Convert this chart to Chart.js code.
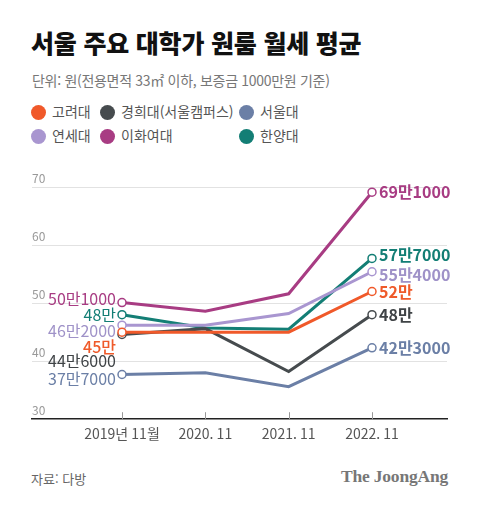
<!DOCTYPE html>
<html lang="ko">
<head>
<meta charset="utf-8">
<title>서울 주요 대학가 원룸 월세 평균</title>
<script src="https://cdn.jsdelivr.net/npm/chart.js@4.4.1/dist/chart.umd.min.js"></script>
<style>
  html, body { margin: 0; padding: 0; background: #fff; }
  body { width: 480px; height: 505px; position: relative; overflow: hidden;
         font-family: "Noto Sans CJK KR", "Noto Sans", sans-serif; }
  .title { position: absolute; left: 31px; top: 24px; font-size: 25px; font-weight: 800;
           color: #111; letter-spacing: -0.2px; }
  .sub { position: absolute; left: 32px; top: 70px; font-size: 14px; color: #777; letter-spacing: -0.3px; }
  .legend { position: absolute; left: 31px; top: 102px; font-size: 14px; color: #555; }
  .legend .item { position: absolute; white-space: nowrap; line-height: 18px; }
  .legend .dot { display: inline-block; width: 15px; height: 15px; border-radius: 50%;
                 vertical-align: -3px; margin-right: 6px; }
  .chart-box { position: absolute; left: 0; top: 160px; width: 480px; height: 290px; }
  .source { position: absolute; left: 31px; top: 469px; font-size: 13px; color: #666; }
  .logo { position: absolute; right: 32px; top: 466px; font-family: "Liberation Serif", "DejaVu Serif", serif;
          font-weight: 700; font-size: 17.5px; color: #777; letter-spacing: -0.2px; }
</style>
</head>
<body>
<div class="title">서울 주요 대학가 원룸 월세 평균</div>
<div class="sub">단위: 원(전용면적 33㎡ 이하, 보증금 1000만원 기준)</div>
<div class="legend" id="legend"></div>
<div class="chart-box"><canvas id="rentChart"></canvas></div>
<div class="source">자료: 다방</div>
<div class="logo">The JoongAng</div>

<script>
// 월세 평균 (만원)
const periods = ['2019년 11월', '2020. 11', '2021. 11', '2022. 11'];
const yTicks = [30, 40, 50, 60, 70];

const schools = ['고려대', '경희대(서울캠퍼스)', '서울대', '연세대', '이화여대', '한양대'];
const korea   = [45.0, 45.0, 45.0, 52.0];
const kyunghee = [44.6, 45.6, 38.2, 48.0];
const snu     = [37.7, 38.0, 35.6, 42.3];
const yonsei  = [46.2, 46.2, 48.2, 55.4];
const ewha    = [50.1, 48.6, 51.6, 69.1];
const hanyang = [48.0, 45.7, 45.5, 57.7];

const colors = ['#f0592a', '#464b4e', '#6b7fa6', '#a996d0', '#a83c83', '#137e75'];
const labelColors = ['#ef5a2a', '#3f4346', '#6b7fa6', '#9f92c8', '#a83c83', '#137e75'];

// label nudges so the numbers don't pile on top of each other
const startNudge = [15, 26, 4, 6, -4, 0];
const endNudge = [0, 0, 0, 3, 0, -3];

// legend slots (row, col)
const legendPos = [[0, 0], [0, 1], [0, 2], [1, 0], [1, 1], [1, 2]];
const legendCols = [0, 69, 208];

function formatWon(v) {
    const man = Math.floor(v + 1e-9);
    const rest = Math.round((v - man) * 10000);
    return rest ? man + '만' + rest : man + '만';
}

function buildLegend() {
    const box = document.getElementById('legend');
    schools.forEach((name, i) => {
        const el = document.createElement('div');
        el.className = 'item';
        el.style.left = legendCols[legendPos[i][1]] + 'px';
        el.style.top = (legendPos[i][0] * 24) + 'px';
        el.innerHTML = `<span class="dot" style="background:${colors[i]}"></span>${name}`;
        box.appendChild(el);
    });
}

const pointLabels = {
    id: 'pointLabels',
    afterDatasetsDraw(chart) {
        const ctx = chart.ctx;
        ctx.save();
        ctx.textBaseline = 'middle';
        chart.data.datasets.forEach((ds, i) => {
            const pts = chart.getDatasetMeta(i).data;
            const first = pts[0], last = pts[pts.length - 1];
            ctx.fillStyle = labelColors[i];

            ctx.font = (i === 0 ? '500 ' : '400 ') + '16px "Noto Sans CJK KR"';
            ctx.textAlign = 'right';
            ctx.fillText(formatWon(ds.data[0].y), first.x - 6, first.y + startNudge[i]);

            ctx.font = '700 16px "Noto Sans CJK KR"';
            ctx.textAlign = 'left';
            ctx.fillText(formatWon(ds.data[ds.data.length - 1].y), last.x + 7, last.y + endNudge[i]);
        });
        ctx.restore();
    }
};

const tickMarks = {
    id: 'tickMarks',
    afterDraw(chart) {
        const ctx = chart.ctx;
        const x = chart.scales.x;
        const bottom = chart.chartArea.bottom;
        ctx.save();
        ctx.strokeStyle = '#999';
        ctx.lineWidth = 1;
        periods.forEach((_, i) => {
            const px = Math.round(x.getPixelForValue(i)) + 0.5;
            ctx.beginPath();
            ctx.moveTo(px, bottom - 7);
            ctx.lineTo(px, bottom);
            ctx.stroke();
        });
        ctx.restore();
    }
};

function initChart() {
    const series = [korea, kyunghee, snu, yonsei, ewha, hanyang];
    const datasets = series.map((vals, i) => ({
        label: schools[i],
        data: vals.map((v, j) => ({ x: j, y: v })),
        borderColor: colors[i],
        backgroundColor: '#ffffff',
        borderWidth: 3,
        tension: 0,
        pointRadius: vals.map((_, j) => (j === 0 || j === vals.length - 1) ? 4 : 0),
        pointBorderWidth: 1.5,
        pointBorderColor: colors[i],
        pointBackgroundColor: '#ffffff'
    }));

    new Chart(document.getElementById('rentChart'), {
        type: 'line',
        data: { datasets: datasets },
        options: {
            responsive: true,
            maintainAspectRatio: false,
            animation: false,
            layout: { padding: { left: 32, right: 33, top: 27, bottom: 2 } },
            plugins: {
                legend: { display: false },
                tooltip: { enabled: false }
            },
            scales: {
                x: {
                    type: 'linear',
                    min: -1.08,
                    max: 3.9,
                    afterBuildTicks: (scale) => {
                        scale.ticks = periods.map((_, i) => ({ value: i }));
                    },
                    grid: { display: false, drawTicks: false },
                    border: { display: true, color: '#222', width: 1.5 },
                    ticks: {
                        padding: 6,
                        color: '#555',
                        font: { family: '"Noto Sans CJK KR"', size: 14 },
                        callback: (v) => periods[v]
                    }
                },
                y: {
                    min: yTicks[0],
                    max: yTicks[yTicks.length - 1],
                    afterBuildTicks: (scale) => {
                        scale.ticks = yTicks.map(v => ({ value: v }));
                    },
                    border: { display: false },
                    grid: {
                        drawTicks: false,
                        color: (c) => c.tick && c.tick.value === yTicks[0] ? 'rgba(0,0,0,0)' : '#e2e2e2',
                        lineWidth: 1
                    },
                    ticks: {
                        mirror: true,
                        padding: 0,
                        labelOffset: -9,
                        color: '#999',
                        font: { family: '"Noto Sans CJK KR"', size: 12 }
                    }
                }
            }
        },
        plugins: [pointLabels, tickMarks]
    });
}

document.addEventListener('DOMContentLoaded', function() {
    buildLegend();
    initChart();
});
</script>
</body>
</html>
